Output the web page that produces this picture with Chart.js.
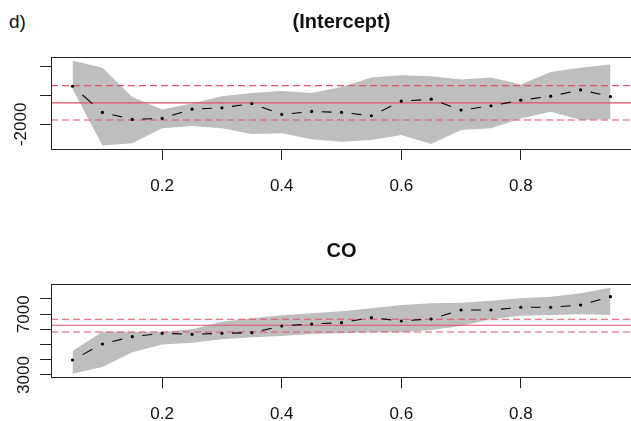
<!DOCTYPE html>
<html>
<head>
<meta charset="utf-8">
<script src="https://cdn.jsdelivr.net/npm/chart.js"></script>
<style>
html,body{margin:0;padding:0;background:#fff;overflow:hidden;width:631px;height:421px}
#wrap{position:relative;width:631px;height:421px;overflow:hidden}
canvas{position:absolute;left:0}
#panelA{top:0}
#panelB{top:200px}
.tag{position:absolute;left:9px;top:11px;font:19px "Liberation Sans",Arial,sans-serif;color:#111}
</style>
</head>
<body>
<div id="wrap">
<div class="tag">d)</div>
<canvas id="panelA" width="645" height="200"></canvas>
<canvas id="panelB" width="645" height="221"></canvas>
</div>
<script>
// =============================
// Quantile process data
// =============================
const taus = [0.05,0.10,0.15,0.20,0.25,0.30,0.35,0.40,0.45,0.50,0.55,0.60,0.65,0.70,0.75,0.80,0.85,0.90,0.95]

// (Intercept)
const interceptCoef  = [-693,-1591,-1830,-1796,-1478,-1433,-1284,-1660,-1557,-1591,-1706,-1205,-1137,-1512,-1365,-1171,-1034,-819,-1046]
const interceptLower = [-780,-2730,-2649,-2137,-2058,-2137,-2331,-2307,-2512,-2594,-2536,-2365,-2672,-2195,-2137,-1796,-1570,-1853,-1829]
const interceptUpper = [195,-55,-1058,-1488,-1284,-1034,-921,-853,-921,-717,-396,-317,-352,-464,-396,-635,-205,-55,58]
const interceptOls = [-1853,-1263,-670]   // lower, estimate, upper
const interceptTicks = [-2000,-1000,0]
const interceptTickLabels = ['-2000','','']

// CO
const coCoef  = [3987,5040,5520,5744,5678,5744,5785,6224,6356,6444,6773,6553,6685,7277,7277,7453,7453,7606,8152]
const coLower = [3075,3520,4500,5000,5125,5349,5481,5566,5698,5744,5810,5810,5961,6224,6663,6902,6948,6994,6948]
const coUpper = [4580,5849,5849,5849,6005,6507,6731,6928,7060,7191,7389,7606,7718,7757,7889,8047,8152,8376,8740]
const coOls = [5829,6270,6663]
const coTicks = [3000,4000,5000,6000,7000,8000]
const coTickLabels = ['3000','','','','7000','']

const xTicks = [0.2,0.4,0.6,0.8]
const xTickLabels = ['0.2','0.4','0.6','0.8']
const xMin = 0.014
const xMax = 0.986

const FONT = '"Liberation Sans", Arial, sans-serif'
const INK = '#222'
const OLS_RED = '#DF536B'
const BAND = '#bebebe'

// box around the plot region
const framePlugin = {
  id: 'frame',
  afterDraw(chart){
    const {ctx, chartArea:a} = chart
    ctx.save()
    ctx.strokeStyle = INK
    ctx.lineWidth = 1
    ctx.strokeRect(Math.round(a.left)+0.5, Math.round(a.top)+0.5, Math.round(a.right-a.left), Math.round(a.bottom-a.top))
    ctx.restore()
  }
}

// bold title centred over the plot region
const panelTitle = {
  id: 'panelTitle',
  afterDraw(chart, args, opts){
    const {ctx, chartArea:a} = chart
    ctx.save()
    ctx.font = 'bold 20px ' + FONT
    ctx.fillStyle = '#111'
    ctx.textAlign = 'center'
    ctx.textBaseline = 'middle'
    ctx.fillText(opts.text, (a.left + a.right) / 2, a.top - opts.gap)
    ctx.restore()
  }
}

function pts(ys){
  return taus.map((t,i) => ({x:t, y:ys[i]}))
}

function hline(y){
  return [{x:xMin, y:y}, {x:xMax, y:y}]
}

function makePanel(id, title, coef, lower, upper, ols, yTicks, yLabels, topPad, axisH, titleGap){

let lo = Math.min(...lower)
let hi = Math.max(...upper)
let pad = (hi - lo) * 0.04

return new Chart(document.getElementById(id), {
type: 'line',
data: {
datasets: [
{
data: pts(upper),
fill: '+1',
backgroundColor: BAND,
borderWidth: 0,
pointRadius: 0,
order: 3
},
{
data: pts(lower),
borderWidth: 0,
pointRadius: 0,
order: 3
},
{
data: hline(ols[1]),
borderColor: OLS_RED,
borderWidth: 1.1,
pointRadius: 0,
order: 2
},
{
data: hline(ols[0]),
borderColor: OLS_RED,
borderWidth: 1.1,
borderDash: [7,4],
pointRadius: 0,
order: 2
},
{
data: hline(ols[2]),
borderColor: OLS_RED,
borderWidth: 1.1,
borderDash: [7,4],
pointRadius: 0,
order: 2
},
{
data: pts(coef),
borderColor: '#000',
borderWidth: 1.1,
pointRadius: 1.6,
pointBorderWidth: 0,
pointBackgroundColor: '#000',
order: 1,
// one short dash centred between neighbouring estimates
segment: {
borderDash: c => {
let len = Math.hypot(c.p1.x - c.p0.x, c.p1.y - c.p0.y)
let d = len * 0.33
return [0, (len - d) / 2, d, 1000]
},
borderDashOffset: c => c.p0DataIndex * 0.001
}
}
]
},
options: {
responsive: false,
animation: false,
events: [],
layout: { padding: { top: topPad, right: 13, left: 0, bottom: 0 } },
plugins: {
legend: { display: false },
tooltip: { enabled: false },
panelTitle: { text: title, gap: titleGap }
},
scales: {
x: {
type: 'linear',
min: xMin,
max: xMax,
afterBuildTicks: s => { s.ticks = xTicks.map(v => ({value: v})) },
afterFit: s => { s.height = axisH },
border: { display: false },
grid: { drawOnChartArea: false, drawTicks: true, tickLength: 11, color: INK },
ticks: {
autoSkip: false,
maxRotation: 0,
padding: 16,
color: '#111',
font: { size: 17, family: FONT },
callback: (v, i) => xTickLabels[i]
}
},
y: {
type: 'linear',
min: lo - pad,
max: hi + pad,
afterBuildTicks: s => { s.ticks = yTicks.map(v => ({value: v})) },
afterFit: s => { s.width = 51 },
border: { display: false },
grid: { drawOnChartArea: false, drawTicks: true, tickLength: 11, color: INK },
ticks: {
autoSkip: false,
minRotation: 90,
maxRotation: 90,
crossAlign: 'center',
padding: -3,
color: '#111',
font: { size: 17, family: FONT },
callback: (v, i) => yLabels[i]
}
}
}
},
plugins: [framePlugin, panelTitle]
})

}

makePanel('panelA', '(Intercept)', interceptCoef, interceptLower, interceptUpper, interceptOls, interceptTicks, interceptTickLabels, 57, 51, 35)
makePanel('panelB', 'CO', coCoef, coLower, coUpper, coOls, coTicks, coTickLabels, 84.3, 43.7, 33)
</script>
</body>
</html>
